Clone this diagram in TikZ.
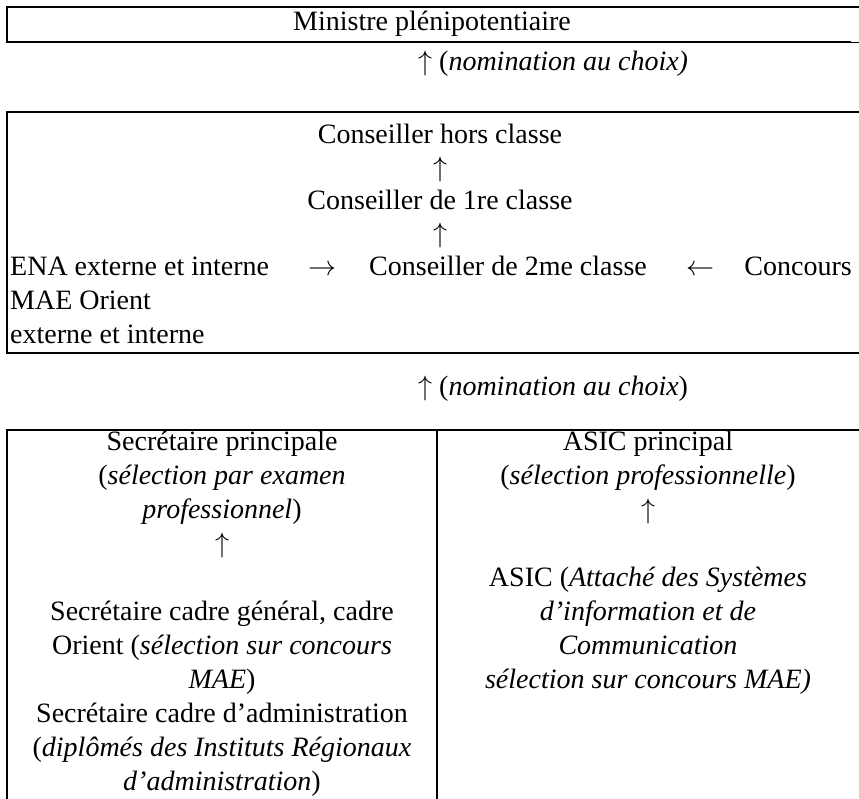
\RequirePackage{fix-cm}
\documentclass[tikz,border=0pt]{standalone}
\usepackage{fontspec}
\setmainfont{Liberation Serif}
\newcommand{\upar}{$\uparrow$}
\begin{document}
\begin{tikzpicture}[x=1pt,y=-1pt,
  txt/.style={inner sep=0pt, font=\fontsize{28}{32}\selectfont, text height=20pt, text depth=6pt},
  rule/.style={line width=1.7pt, line cap=rect},
  thin rule/.style={line width=1.1pt}]
\useasboundingbox (0,0) rectangle (859,798);
% top box
\draw[rule] (7,42) -- (7,7) -- (862,7);
\draw[thin rule] (7,42) -- (851,42);
\draw[line width=1.8pt] (851,42.5) -- (862,42.5);
\node[txt] (min) at (432,23) {Ministre plénipotentiaire};
\node[txt,anchor=west] (nom1) at (418,63) {\upar{} (\textit{nomination au choix)}};
% middle box
\draw[rule] (862,112) -- (7,112) -- (7,353) -- (862,353);
\node[txt] (chc) at (440,136) {Conseiller hors classe};
\node[txt] (up1) at (440,169) {\upar};
\node[txt] (c1) at (440,202) {Conseiller de 1re classe};
\node[txt] (up2) at (440,235) {\upar};
\node[txt,anchor=west] (ena) at (10,268) {ENA externe et interne};
\node[txt] (ra) at (322,268) {$\rightarrow$};
\node[txt] (c2) at (508,268) {Conseiller de 2me classe};
\node[txt] (la) at (700,268) {$\leftarrow$};
\node[txt,anchor=east] (conc) at (852,268) {Concours};
\node[txt,anchor=west] (mae) at (10,302) {MAE Orient};
\node[txt,anchor=west] (ext) at (10,336) {externe et interne};
\node[txt,anchor=west] (nom2) at (418,388) {\upar{} (\textit{nomination au choix})};
% bottom box
\draw[rule] (7,801) -- (7,430) -- (862,430);
\draw[rule] (437,430) -- (437,801);
\node[txt] (sp) at (222,443) {Secrétaire principale};
\node[txt] (sp2) at (222,477) {(\textit{sélection par examen}};
\node[txt] (sp3) at (222,511) {\textit{professionnel})};
\node[txt] (up3) at (222,545) {\upar};
\node[txt] (sc1) at (222,613) {Secrétaire cadre général, cadre};
\node[txt] (sc2) at (222,647) {Orient (\textit{sélection sur concours}};
\node[txt] (sc3) at (222,681) {\textit{MAE})};
\node[txt] (sa1) at (222,715) {Secrétaire cadre d’administration};
\node[txt] (sa2) at (222,749) {(\textit{diplômés des Instituts Régionaux}};
\node[txt] (sa3) at (222,783) {\textit{d’administration})};
\node[txt] (ap) at (648,443) {ASIC principal};
\node[txt] (ap2) at (648,477) {(\textit{sélection professionnelle})};
\node[txt] (up4) at (648,511) {\upar};
\node[txt] (as1) at (648,579) {ASIC (\textit{Attaché des Systèmes}};
\node[txt] (as2) at (648,613) {\textit{d’information et de}};
\node[txt] (as3) at (648,647) {\textit{Communication}};
\node[txt] (as4) at (648,681) {\textit{sélection sur concours MAE)}};
\end{tikzpicture}
\end{document}
